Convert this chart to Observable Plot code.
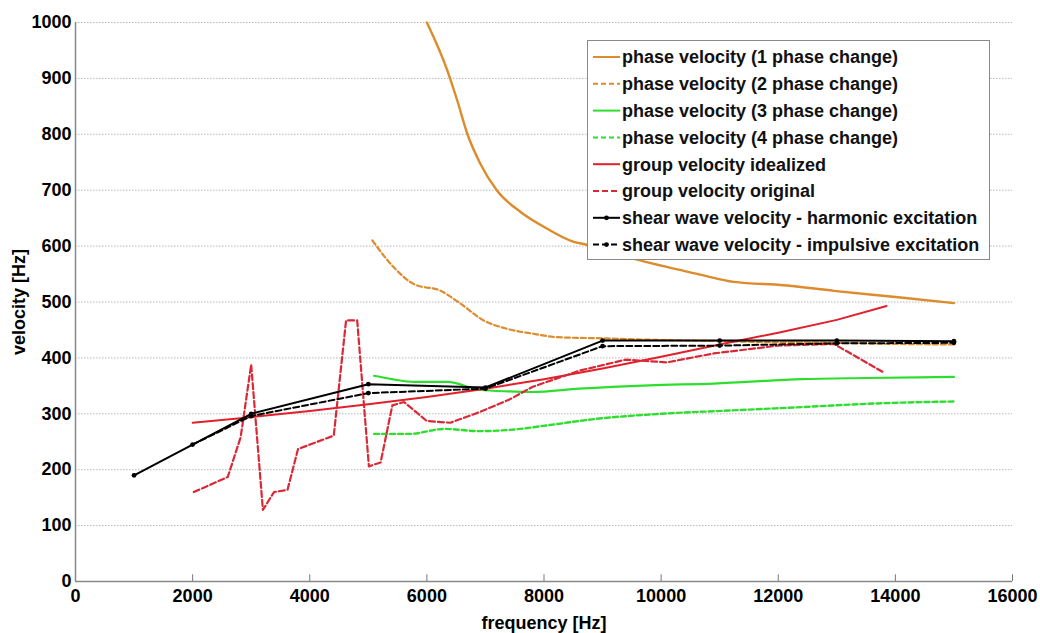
<!DOCTYPE html>
<html>
<head>
<meta charset="utf-8">
<script src="https://cdn.jsdelivr.net/npm/d3@7"></script>
<script src="https://cdn.jsdelivr.net/npm/@observablehq/plot@0.6"></script>
<style>
  body { margin: 0; background: white; }
  #chart { position: relative; width: 1040px; height: 633px; }
</style>
</head>
<body>
<div id="chart"></div>
<script>
// ---- data ----
const xTicks = [0, 2000, 4000, 6000, 8000, 10000, 12000, 14000, 16000];
const yTicks = [0, 100, 200, 300, 400, 500, 600, 700, 800, 900, 1000];

const phase1F = [6000, 6350, 6520, 6690, 6915, 7200, 7600, 8055, 8450, 8740, 9540, 10670, 11240, 12100, 12950, 14090, 15000];
const phase1V = [1000, 914, 860, 801, 747, 699, 661, 631, 610, 602, 577, 549, 536, 530, 520, 508, 498];

const phase2F = [5070, 5435, 5780, 6235, 6575, 6970, 7370, 7830, 8225, 9000, 10000, 11000, 12000, 13000, 14000, 15000];
const phase2V = [610, 562, 532, 520, 497, 467, 452, 443, 437, 435, 432, 430, 428, 427, 425, 424];

const phase3F = [5100, 5400, 5800, 6350, 6900, 7400, 7800, 8600, 9800, 10900, 12400, 13500, 15000];
const phase3V = [368, 362, 357, 357, 343, 340, 339, 345, 351, 354, 362, 364, 366];

const phase4F = [5100, 5700, 6300, 6900, 7500, 8100, 8900, 10000, 11200, 12400, 13800, 15000];
const phase4V = [264, 264, 273, 269, 272, 280, 291, 300, 306, 312, 319, 322];

const groupIdealF = [2000, 3000, 4000, 5000, 6000, 7000, 8000, 9000, 10000, 11000, 12000, 13000, 13850];
const groupIdealV = [284, 294, 305, 317, 330, 345, 362, 381, 402, 424, 445, 468, 493];

const groupOrigF = [2020, 2600, 2820, 3000, 3200, 3390, 3620, 3800, 4410, 4620, 4810, 5010, 5210, 5410, 5610, 6000, 6400, 6900, 7400, 7800, 8600, 9400, 10100, 10900, 12000, 12950, 13800];
const groupOrigV = [160, 187, 258, 388, 128, 160, 164, 237, 261, 467, 467, 206, 213, 315, 321, 287, 284, 303, 325, 348, 377, 397, 392, 408, 422, 425, 374];

const harmonicF = [1000, 3000, 5000, 7000, 9000, 11000, 13000, 15000];
const harmonicV = [190, 300, 353, 347, 431, 431, 431, 430];

const impulsiveF = [2000, 3000, 5000, 7000, 9000, 11000, 13000, 15000];
const impulsiveV = [245, 296, 337, 345, 421, 422, 426, 427];

const seriesNames = [
  "phase velocity (1 phase change)",
  "phase velocity (2 phase change)",
  "phase velocity (3 phase change)",
  "phase velocity (4 phase change)",
  "group velocity idealized",
  "group velocity original",
  "shear wave velocity - harmonic excitation",
  "shear wave velocity - impulsive excitation"
];

// ---- styles ----
const ORANGE = "#dc8c2c", GREEN = "#2ede2e", RED = "#e0202a", RED2 = "#d82a36", BLACK = "#000";
const styles = [
  {stroke: ORANGE, dash: null, dot: false, w: 2.4},
  {stroke: ORANGE, dash: "5,3", dot: false, w: 2.2},
  {stroke: GREEN, dash: null, dot: false, w: 2.2},
  {stroke: GREEN, dash: "5,3", dot: false, w: 2.4},
  {stroke: RED, dash: null, dot: false, w: 2},
  {stroke: RED2, dash: "6,3", dot: false, w: 2.2},
  {stroke: BLACK, dash: null, dot: true, w: 2},
  {stroke: BLACK, dash: "6,3", dot: true, w: 2}
];

const zip = (fs, vs) => fs.map((f, i) => ({f, v: vs[i]}));
const series = [
  zip(phase1F, phase1V), zip(phase2F, phase2V), zip(phase3F, phase3V), zip(phase4F, phase4V),
  zip(groupIdealF, groupIdealV), zip(groupOrigF, groupOrigV), zip(harmonicF, harmonicV), zip(impulsiveF, impulsiveV)
];

const lineMarks = [];
series.forEach((data, i) => {
  const s = styles[i];
  lineMarks.push(Plot.line(data, {x: "f", y: "v", stroke: s.stroke, strokeWidth: s.w, strokeDasharray: s.dash, curve: i < 4 ? "monotone-x" : "linear"}));
  if (s.dot) lineMarks.push(Plot.dot(data, {x: "f", y: "v", r: 2.4, fill: BLACK, stroke: "none"}));
});

const chart = Plot.plot({
  width: 1040,
  height: 633,
  marginLeft: 75,
  marginRight: 28,
  marginTop: 22,
  marginBottom: 52,
  style: {fontFamily: "'Liberation Sans', Arial, sans-serif", fontWeight: "bold", fontSize: "18px", color: "#000", background: "white"},
  x: {domain: [0, 16000]},
  y: {domain: [0, 1000]},
  marks: [
    Plot.ruleY(yTicks.filter(d => d > 0), {stroke: "#b8b8b8", strokeDasharray: "1.5,1.5", strokeWidth: 1}),
    Plot.ruleX(xTicks, {y1: 0, y2: 12, stroke: "#777"}),
    Plot.ruleX([0], {stroke: "#888", strokeWidth: 1.5}),
    Plot.ruleY([0], {stroke: "#888", strokeWidth: 1.5}),
    Plot.axisX({ticks: xTicks, tickSize: 0, tickPadding: 8, tickFormat: d => String(d), label: "frequency [Hz]", labelAnchor: "center", labelArrow: "none", labelOffset: 47}),
    Plot.axisY({ticks: yTicks, tickSize: 0, tickPadding: 4, tickFormat: d => String(d), label: "velocity [Hz]", labelAnchor: "center", labelArrow: "none", labelOffset: 63}),
    ...lineMarks
  ]
});
document.getElementById("chart").appendChild(chart);

// ---- legend (inside plot area, upper right) ----
const svg = d3.select(chart);
const lg = svg.append("g").attr("class", "legend").attr("text-anchor", "start");
lg.append("rect").attr("x", 587.5).attr("y", 40.5).attr("width", 402).attr("height", 219)
  .attr("fill", "white").attr("stroke", "#8a8a8a").attr("stroke-width", 1);
seriesNames.forEach((name, i) => {
  const y = 57 + i * 26.8;
  const s = styles[i];
  lg.append("line").attr("x1", 593).attr("x2", 620).attr("y1", y).attr("y2", y)
    .attr("stroke", s.stroke).attr("stroke-width", 2).attr("stroke-dasharray", s.dash);
  if (s.dot) lg.append("circle").attr("cx", 606.5).attr("cy", y).attr("r", 2.4).attr("fill", BLACK);
  lg.append("text").attr("x", 622).attr("y", y).attr("dy", "0.36em").attr("text-anchor", "start")
    .attr("font-size", 18).attr("font-weight", "bold").attr("fill", "#111").text(name);
});
</script>
</body>
</html>
